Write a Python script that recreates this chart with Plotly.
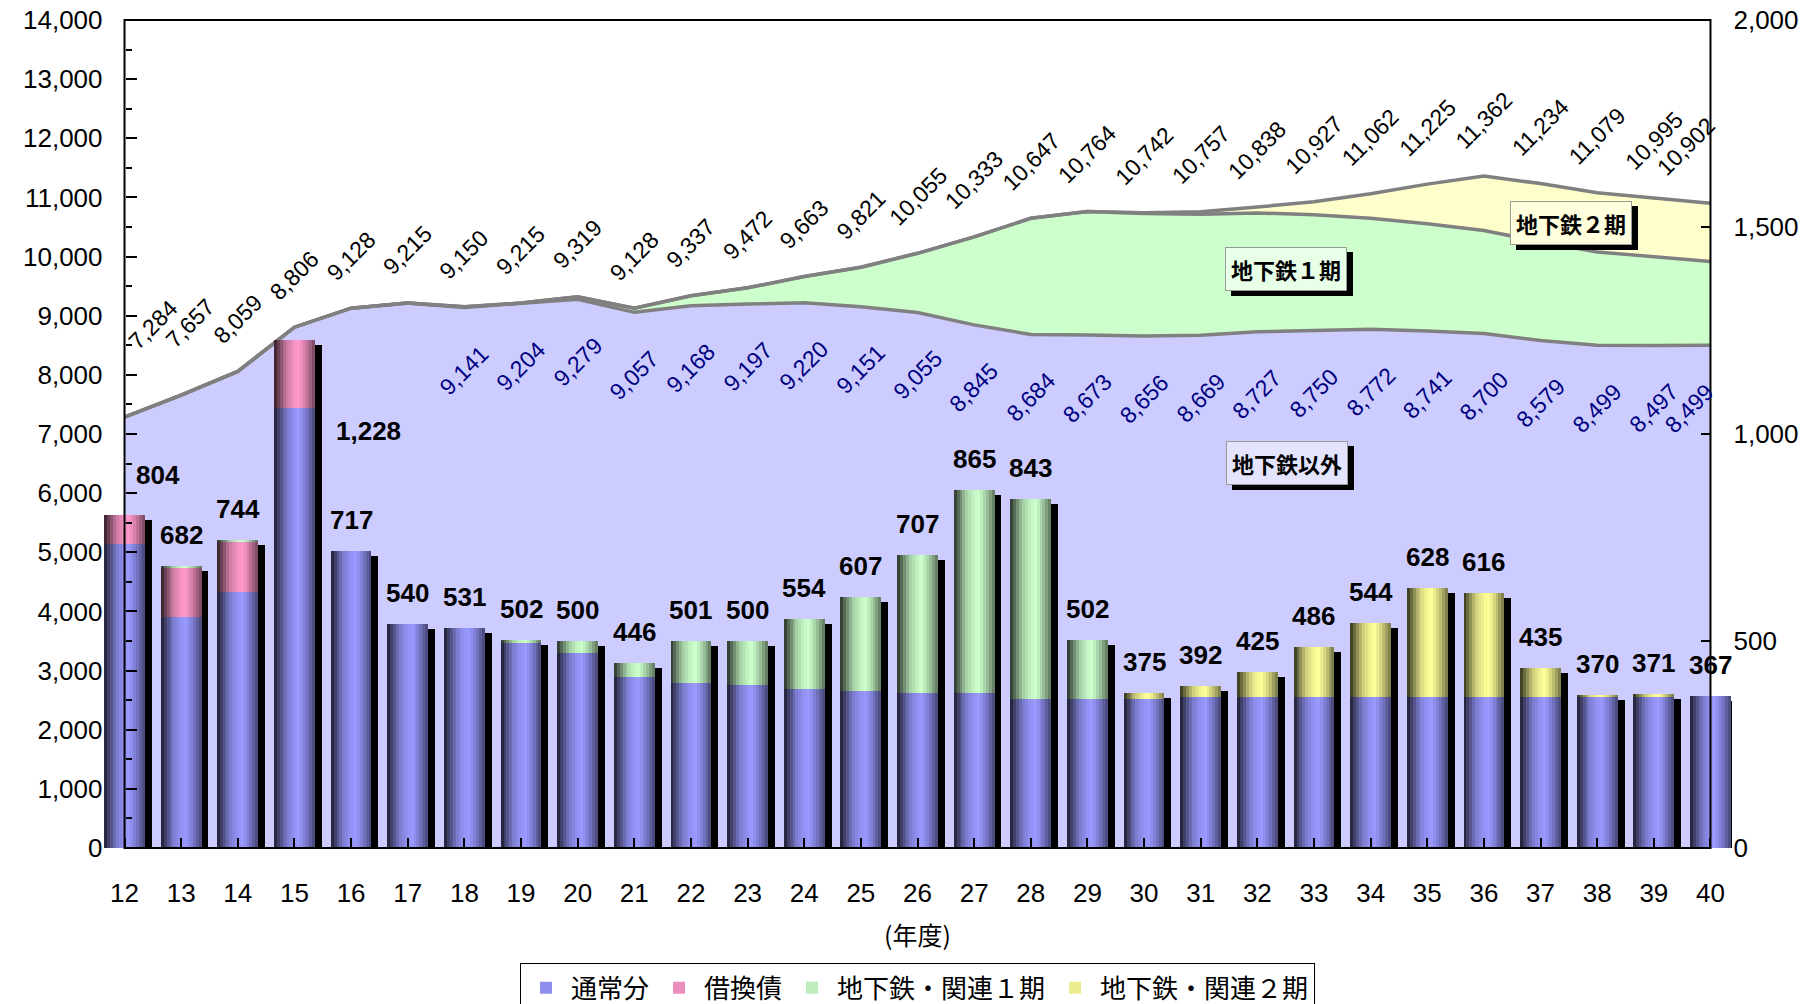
import numpy as np
import plotly.graph_objects as go

# ---------------- data ----------------
years = list(range(12, 41))
year_labels = [str(y) for y in years]

# 市債残高（左軸）
total_debt = [7284, 7657, 8059, 8806, 9128, 9215, 9150, 9215, 9319, 9128,
              9337, 9472, 9663, 9821, 10055, 10333, 10647, 10764, 10742, 10757,
              10838, 10927, 11062, 11225, 11362, 11234, 11079, 10995, 10902]
non_subway_debt = [7284, 7657, 8059, 8806, 9128, 9215, 9141, 9204, 9279, 9057,
                   9168, 9197, 9220, 9151, 9055, 8845, 8684, 8673, 8656, 8669,
                   8727, 8750, 8772, 8741, 8700, 8579, 8499, 8497, 8499]
subway1_debt = [0, 0, 0, 0, 0, 0, 9, 11, 40, 71,
                169, 275, 443, 670, 1000, 1488, 1963, 2091, 2072, 2047,
                2011, 1957, 1875, 1814, 1742, 1670, 1580, 1503, 1418]
subway2_debt = [0, 0, 0, 0, 0, 0, 0, 0, 0, 0,
                0, 0, 0, 0, 0, 0, 0, 0, 14, 41,
                100, 220, 415, 670, 920, 985, 1000, 995, 985]

# 市債発行額（右軸）
issue_regular = [735, 558, 618, 1062, 717, 540, 531, 496, 472, 413,
                 399, 394, 385, 380, 375, 375, 361, 361, 361, 365,
                 365, 365, 365, 365, 365, 365, 365, 365, 367]
issue_refund = [69, 119, 120, 166, 0, 0, 0, 0, 0, 0,
                0, 0, 0, 0, 0, 0, 0, 0, 0, 0,
                0, 0, 0, 0, 0, 0, 0, 0, 0]
issue_sub1 = [0, 5, 6, 0, 0, 0, 0, 6, 28, 33,
              102, 106, 169, 227, 332, 490, 482, 141, 0, 0,
              0, 0, 0, 0, 0, 0, 0, 0, 0]
issue_sub2 = [0, 0, 0, 0, 0, 0, 0, 0, 0, 0,
              0, 0, 0, 0, 0, 0, 0, 0, 14, 27,
              60, 121, 179, 263, 251, 70, 5, 6, 0]
issue_total = [804, 682, 744, 1228, 717, 540, 531, 502, 500, 446,
               501, 500, 554, 607, 707, 865, 843, 502, 375, 392,
               425, 486, 544, 628, 616, 435, 370, 371, 367]

series_names = ["通常分", "借換債", "地下鉄・関連１期", "地下鉄・関連２期"]
area_names = ["地下鉄以外", "地下鉄１期", "地下鉄２期"]

# ---------------- style ----------------
FONT = "Liberation Sans, Arial, 'Noto Sans CJK JP', sans-serif"
CJK = "'Noto Sans CJK JP', 'Liberation Sans', sans-serif"
bar_colors = ["#9999FF", "#FF99CC", "#CCFFCC", "#FFFF99"]
area_colors = ["#CCCCFF", "#CCFFCC", "#FFFFCC"]
X0, X1 = 11.62, 40.38
BW = 0.72          # bar width (category units)
NS = 14            # gradient slices
prof_t = [0.0, 0.12, 0.3, 0.5, 0.62, 0.8, 1.0]
prof_f = [0.18, 0.45, 0.8, 0.97, 1.0, 0.78, 0.45]


def shade(hx, f):
    r, g, b = int(hx[1:3], 16), int(hx[3:5], 16), int(hx[5:7], 16)
    return "rgb(%d,%d,%d)" % (min(255, r * f), min(255, g * f), min(255, b * f))


fig = go.Figure()

# stacked areas (left axis)
for vals, nm, col in zip([non_subway_debt, subway1_debt, subway2_debt], area_names, area_colors):
    fig.add_trace(go.Scatter(x=years, y=vals, name=nm, stackgroup="debt", mode="lines",
                             fillcolor=col, line=dict(color="#808080", width=3.5),
                             showlegend=False, hoverinfo="skip", yaxis="y"))

# shadow of bars
fig.add_trace(go.Bar(x=years, y=issue_total, base=-12, width=BW, offset=-BW / 2 + 0.122,
                     marker=dict(color="black", line=dict(width=0)), showlegend=False,
                     hoverinfo="skip", yaxis="y2"))

reg = np.array(issue_regular)
ref = np.array(issue_refund)
s1 = np.array(issue_sub1)
s2 = np.array(issue_sub2)
segments = [(reg, np.zeros_like(reg)), (ref, reg), (s1, reg + ref), (s2, reg + ref + s1)]

for k, ((vals, base), nm, col) in enumerate(zip(segments, series_names, bar_colors)):
    for i in range(NS):
        t = (i + 0.5) / NS
        f = float(np.interp(t, prof_t, prof_f))
        left = -BW / 2 + i * BW / NS
        fig.add_trace(go.Bar(x=years, y=vals, base=base, width=BW - i * BW / NS, offset=left,
                             marker=dict(color=shade(col, f), line=dict(width=0)),
                             name=nm, legendgroup=nm, showlegend=(i == 9),
                             hoverinfo="skip", yaxis="y2"))

annotations = []
# total outstanding labels
tot_nudge = {12: (28, 60), 13: (9, 40), 40: (-24, 20)}
for yr, v in zip(years, total_debt):
    dx, dy = tot_nudge.get(yr, (0, 20))
    annotations.append(dict(x=yr, y=v, xref="x", yref="y", text=f"{v:,}", textangle=-45,
                            showarrow=False, xanchor="center", yanchor="bottom",
                            xshift=dx, yshift=dy, font=dict(size=23, color="black", family=FONT)))
# non-subway labels
ns_nudge = {40: (-21, -30)}
for yr, v in zip(years, non_subway_debt):
    if yr < 18:
        continue
    dx, dy = ns_nudge.get(yr, (0, -30))
    annotations.append(dict(x=yr, y=v, xref="x", yref="y", text=f"{v:,}", textangle=-45,
                            showarrow=False, xanchor="center", yanchor="top",
                            xshift=dx, yshift=dy, font=dict(size=23, color="#000080", family=FONT)))
# bar labels
bar_nudge = {12: (33, 40), 15: (74, -91)}
for yr, v in zip(years, issue_total):
    dx, dy = bar_nudge.get(yr, (0, 31))
    annotations.append(dict(x=yr, y=v, xref="x", yref="y2", text=f"<b>{v:,}</b>",
                            showarrow=False, xanchor="center", yanchor="middle",
                            xshift=dx, yshift=dy, font=dict(size=26, color="black", family=FONT)))
# area name boxes (drop shadow + box)
box_pos = [(32.52, 6503, "#E4E4FF"), (32.5, 9782, "#E8FFE8"), (37.53, 10560, "#FFFFDD")]
for nm, (bx, by, bg) in zip(area_names, box_pos):
    blank = "<b>" + "\u3000" * len(nm) + "</b>"
    annotations.append(dict(x=bx, y=by, xref="x", yref="y", text=blank, showarrow=False,
                            xshift=6, yshift=-5, bgcolor="black", bordercolor="black", borderwidth=1,
                            borderpad=5, font=dict(size=22, color="black", family=CJK)))
    annotations.append(dict(x=bx, y=by, xref="x", yref="y", text=f"<b>{nm}</b>", showarrow=False,
                            bgcolor=bg, bordercolor="#999999", borderwidth=1,
                            borderpad=5, font=dict(size=22, color="black", family=CJK)))

p_left = (12 - X0) / (X1 - X0)
p_right = (40 - X0) / (X1 - X0)

fig.update_layout(
    width=1809, height=1004,
    margin=dict(l=103, r=76.5, t=19.5, b=156.3, autoexpand=False),
    paper_bgcolor="white", plot_bgcolor="white",
    font=dict(family=FONT, size=26, color="black"),
    barmode="overlay", bargap=0,
    xaxis=dict(range=[X0, X1], tickmode="array", tickvals=years, ticktext=year_labels,
               ticks="inside", ticklen=10, tickwidth=1.5, tickcolor="black",
               showgrid=False, zeroline=False, showline=False,
               tickfont=dict(size=26, family=FONT), ticklabelstandoff=27,
               title=dict(text="(年度)", font=dict(size=25, family=CJK), standoff=20)),
    yaxis=dict(range=[0, 14000], dtick=1000, tickformat=",d", anchor="free", position=p_left,
               ticks="inside", ticklen=11, tickwidth=1.5, tickcolor="black",
               minor=dict(dtick=500, ticks="inside", ticklen=6, tickwidth=1.5, tickcolor="black"),
               showgrid=False, zeroline=False, showline=False,
               tickfont=dict(size=26, family=FONT), ticklabelstandoff=22),
    yaxis2=dict(range=[0, 2000], dtick=500, tickformat=",d", overlaying="y", side="right",
                anchor="free", position=p_right,
                ticks="inside", ticklen=9, tickwidth=1.5, tickcolor="black",
                showgrid=False, zeroline=False, showline=False,
                tickfont=dict(size=26, family=FONT), ticklabelstandoff=22),
    legend=dict(orientation="h", x=0.5, xanchor="center", y=-0.1392, yanchor="top",
                bordercolor="black", borderwidth=1, bgcolor="white", itemwidth=40,
                font=dict(size=26, family=CJK), traceorder="normal"),
    annotations=annotations,
    shapes=[dict(type="rect", xref="x", yref="paper", x0=12, x1=40, y0=0, y1=1,
                 line=dict(color="black", width=2), fillcolor="rgba(0,0,0,0)")],
)

fig.write_html("out.html", config={"displayModeBar": False},
               post_script="document.body.style.margin='0';document.body.style.overflow='hidden';")
